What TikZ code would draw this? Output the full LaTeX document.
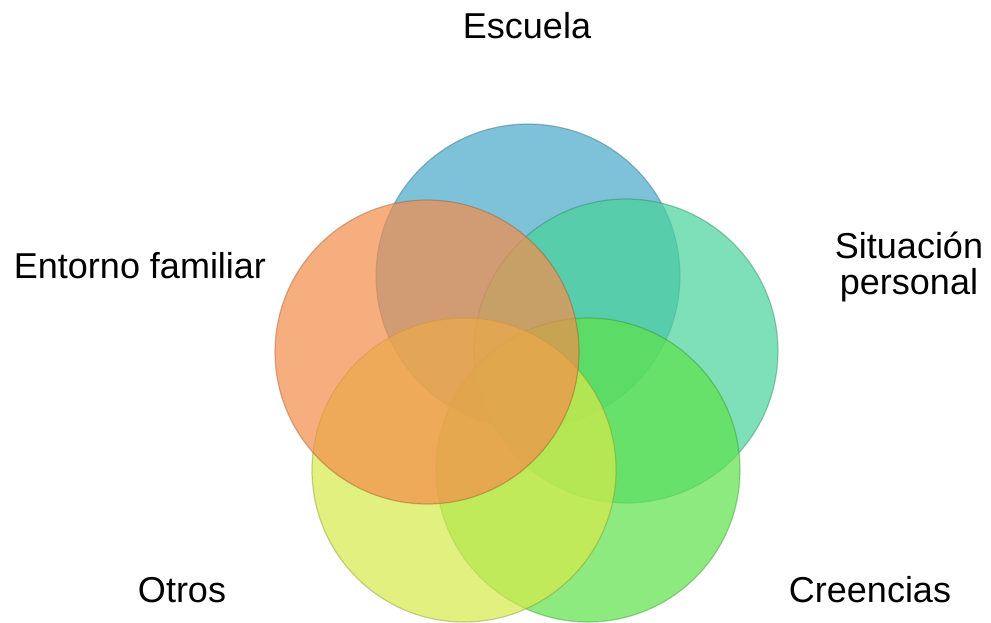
\documentclass[tikz,border=0pt]{standalone}
\usepackage{fontspec}
\setmainfont{Liberation Sans}
\begin{document}
\begin{tikzpicture}[x=1pt,y=-1pt,
  bubble/.style={circle, minimum size=304pt, inner sep=0pt, fill opacity=0.7, draw opacity=0.4, line width=1.2pt},
  lbl/.style={font=\fontsize{36}{36}\selectfont, text=black, anchor=base, inner sep=0pt},
]
\definecolor{cblue}{RGB}{72,169,202}
\definecolor{cteal}{RGB}{72,211,154}
\definecolor{cgreen}{RGB}{94,226,74}
\definecolor{cyellow}{RGB}{214,234,74}
\definecolor{corange}{RGB}{245,141,74}
\useasboundingbox (0,0) rectangle (991,622);
\fill[white] (0,0) rectangle (991,622);
\node[bubble, fill=cblue, draw=cblue!60!black] (escuelaC) at (528,276) {};
\node[bubble, fill=cteal, draw=cteal!60!black] (situacionC) at (626,351) {};
\node[bubble, fill=cgreen, draw=cgreen!60!black] (creenciasC) at (588,470) {};
\node[bubble, fill=cyellow, draw=cyellow!60!black] (otrosC) at (464,470) {};
\node[bubble, fill=corange, draw=corange!60!black] (entornoC) at (427,352) {};
\node[lbl] (escuela) at (527,38) {Escuela};
\node[lbl] (entorno) at (140,278) {Entorno familiar};
\node[lbl] (situacion1) at (909,258) {Situación};
\node[lbl] (situacion2) at (909,294) {personal};
\node[lbl] (otros) at (182,602) {Otros};
\node[lbl] (creencias) at (870,602) {Creencias};
\end{tikzpicture}
\end{document}
